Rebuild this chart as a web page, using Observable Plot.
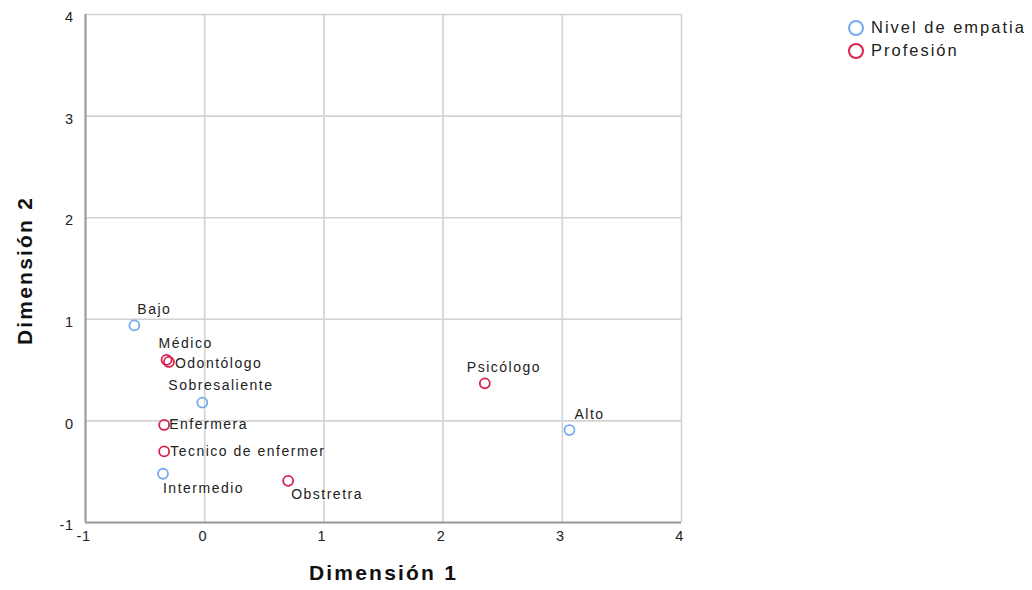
<!DOCTYPE html>
<html><head><meta charset="utf-8">
<script src="https://cdn.jsdelivr.net/npm/d3@7"></script>
<script src="https://cdn.jsdelivr.net/npm/@observablehq/plot@0.6"></script>
<style>
body{margin:0;background:#fff;font-family:"Liberation Sans",Arial,sans-serif;}
#wrap{position:relative;width:1032px;height:590px;}
#legend{position:absolute;left:848px;top:16px;font-size:16.5px;letter-spacing:2px;color:#222;line-height:23px;}
#legend .item{display:flex;align-items:center;white-space:nowrap;}
#legend .sw{display:inline-block;width:16px;height:16px;border-radius:50%;box-sizing:border-box;border:2px solid;margin-right:7px;}
</style></head><body><div id="wrap"></div>
<script>
const names = ["Bajo","Médico","Odontólogo","Sobresaliente","Enfermera","Tecnico de enfermer","Intermedio","Obstretra","Psicólogo","Alto"];
const dim1 = [-0.59,-0.32,-0.30,-0.02,-0.34,-0.34,-0.35,0.70,2.35,3.06];
const dim2 = [0.94,0.60,0.58,0.18,-0.04,-0.30,-0.52,-0.59,0.37,-0.09];
const groups = ["Nivel de empatia","Profesión","Profesión","Nivel de empatia","Profesión","Profesión","Nivel de empatia","Profesión","Profesión","Nivel de empatia"];
const groupNames = ["Nivel de empatia","Profesión"];
const groupColors = ["#78aaf0","#d6234f"];
const xTicks = [-1,0,1,2,3,4];
const yTicks = [-1,0,1,2,3,4];
const tickLabels = ["-1","0","1","2","3","4"];
const xTitle = "Dimensión 1";
const yTitle = "Dimensión 2";

// label placement relative to each point (style config)
const labelOffset = {
  "Bajo":[3,-16], "Médico":[-8,-16], "Odontólogo":[6,2], "Sobresaliente":[-34,-17],
  "Enfermera":[5,0], "Tecnico de enfermer":[6,0], "Intermedio":[0,15], "Obstretra":[3,14],
  "Psicólogo":[-18,-16], "Alto":[5,-16]
};

const data = names.map((n,i)=>({name:n, x:dim1[i], y:dim2[i], group:groups[i]}));
const fmt = v => tickLabels[xTicks.indexOf(v)];

const plot = Plot.plot({
  width: 1032, height: 590,
  marginLeft: 85, marginRight: 351, marginTop: 14, marginBottom: 68,
  style: {fontFamily: '"Liberation Sans", Arial, sans-serif', color: "#222", background: "#fff"},
  x: {domain: [-1,4], axis: null},
  y: {domain: [-1,4], axis: null},
  color: {domain: groupNames, range: groupColors},
  marks: [
    Plot.gridX(xTicks, {stroke: "#d2d2d2", strokeOpacity: 1, strokeWidth: 1.6}),
    Plot.gridY(yTicks, {stroke: "#d2d2d2", strokeOpacity: 1, strokeWidth: 1.6}),
    Plot.ruleX([-1], {stroke: "#9a9a9a", strokeWidth: 2}),
    Plot.ruleY([-1], {stroke: "#9a9a9a", strokeWidth: 2}),
    Plot.text(xTicks, {x: d => d, text: fmt, frameAnchor: "bottom", dy: 18, dx: -2, fontSize: 14.5, fill: "#222"}),
    Plot.text(yTicks, {y: d => d, text: fmt, frameAnchor: "left", textAnchor: "end", dx: -12, dy: 3, fontSize: 14.5, fill: "#222"}),
    Plot.dot(data, {x: "x", y: "y", stroke: "group", r: 5, strokeWidth: 1.8}),
    ...data.map(d => Plot.text([d], {x: "x", y: "y", text: "name", textAnchor: "start",
      dx: labelOffset[d.name][0], dy: labelOffset[d.name][1], fontSize: 14, fill: "#222"})),
    Plot.text([xTitle], {frameAnchor: "bottom", dy: 57, fontSize: 21, fontWeight: "bold", fill: "#111"}),
    Plot.text([yTitle], {frameAnchor: "left", textAnchor: "middle", rotate: -90, dx: -60, dy: 2, fontSize: 21, fontWeight: "bold", fill: "#111"})
  ]
});

const sel = d3.select(plot);
sel.selectAll('g[font-size="14.5"] text').style("letter-spacing","0.5px");
sel.selectAll('g[font-size="14"] text').style("letter-spacing","1.5px");
sel.selectAll('g[font-size="21"] text').style("letter-spacing","2.2px");

const wrap = document.getElementById("wrap");
wrap.appendChild(plot);

const legend = document.createElement("div");
legend.id = "legend";
groupNames.forEach((g,i)=>{
  const item = document.createElement("div");
  item.className = "item";
  const sw = document.createElement("span");
  sw.className = "sw";
  sw.style.borderColor = groupColors[i];
  item.appendChild(sw);
  item.appendChild(document.createTextNode(g));
  legend.appendChild(item);
});
wrap.appendChild(legend);
</script>
</body></html>
